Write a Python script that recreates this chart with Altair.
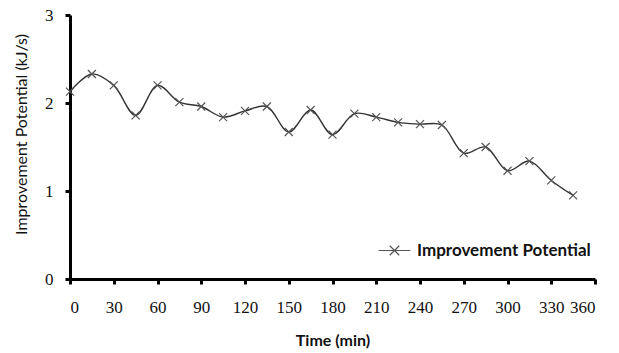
import altair as alt
import pandas as pd

time_min = [0, 15, 30, 45, 60, 75, 90, 105, 120, 135, 150, 165,
            180, 195, 210, 225, 240, 255, 270, 285, 300, 315, 330, 345]
potential = [2.13, 2.33, 2.20, 1.86, 2.20, 2.01, 1.96, 1.84, 1.91, 1.96, 1.67, 1.92,
             1.64, 1.88, 1.84, 1.78, 1.76, 1.75, 1.43, 1.50, 1.23, 1.34, 1.12, 0.95]
series_name = "Improvement Potential"
x_ticks = list(range(0, 361, 30))
y_ticks = [0, 1, 2, 3]

df = pd.DataFrame({"t": time_min, "v": potential, "s": [series_name] * len(time_min)})

X_PATH = "M-1,-1L1,1M-1,1L1,-1"
LEGEND_PATH = "M-1,0L1,0M-0.3,-0.3L0.3,0.3M-0.3,0.3L0.3,-0.3"

x_enc = alt.X("t:Q", scale=alt.Scale(domain=[0, 360], nice=False),
              axis=alt.Axis(values=x_ticks, title="Time (min)", grid=False, format="d",
                            domainColor="black", domainWidth=3,
                            tickColor="black", tickWidth=3, tickSize=5,
                            labelFont="Liberation Serif", labelFontSize=17,
                            labelColor="#111", labelPadding=15,
                            titleFont="Lato", titleFontSize=16, titleFontWeight="bold",
                            titleColor="#111", titlePadding=17))
y_enc = alt.Y("v:Q", scale=alt.Scale(domain=[0, 3], nice=False),
              axis=alt.Axis(values=y_ticks, title="Improvement Potential (kJ/s)", grid=False,
                            format="d",
                            domainColor="black", domainWidth=3,
                            tickColor="black", tickWidth=3, tickSize=5,
                            labelFont="Liberation Serif", labelFontSize=17,
                            labelColor="#111", labelPadding=12,
                            titleFont="Lato", titleFontSize=16, titleFontWeight="normal",
                            titleColor="#111", titlePadding=15, titleY=119))

line = alt.Chart(df).mark_line(interpolate="catmull-rom", color="#333", strokeWidth=1.4).encode(
    x=x_enc, y=y_enc)

pts = alt.Chart(df).mark_point(shape=X_PATH, filled=False, size=64, strokeWidth=1.2, opacity=1).encode(
    x="t:Q", y="v:Q",
    color=alt.Color("s:N", scale=alt.Scale(range=["#555"]),
                    legend=alt.Legend(title=None, orient="none", legendX=308, legendY=219,
                                      symbolType=LEGEND_PATH, symbolSize=1000,
                                      symbolStrokeWidth=1.2, symbolStrokeColor="#444",
                                      labelFont="Lato", labelFontSize=17, labelFontWeight="bold",
                                      labelColor="#111", labelOffset=6, labelLimit=400)))

chart = alt.layer(line, pts).properties(
    width=525, height=264,
    padding={"left": 70, "top": 15, "right": 24, "bottom": 74},
    autosize=alt.AutoSizeParams(type="none"),
    background="white",
).configure_view(stroke=None)

chart.save("out.html", embed_options={"renderer": "svg", "actions": False})
